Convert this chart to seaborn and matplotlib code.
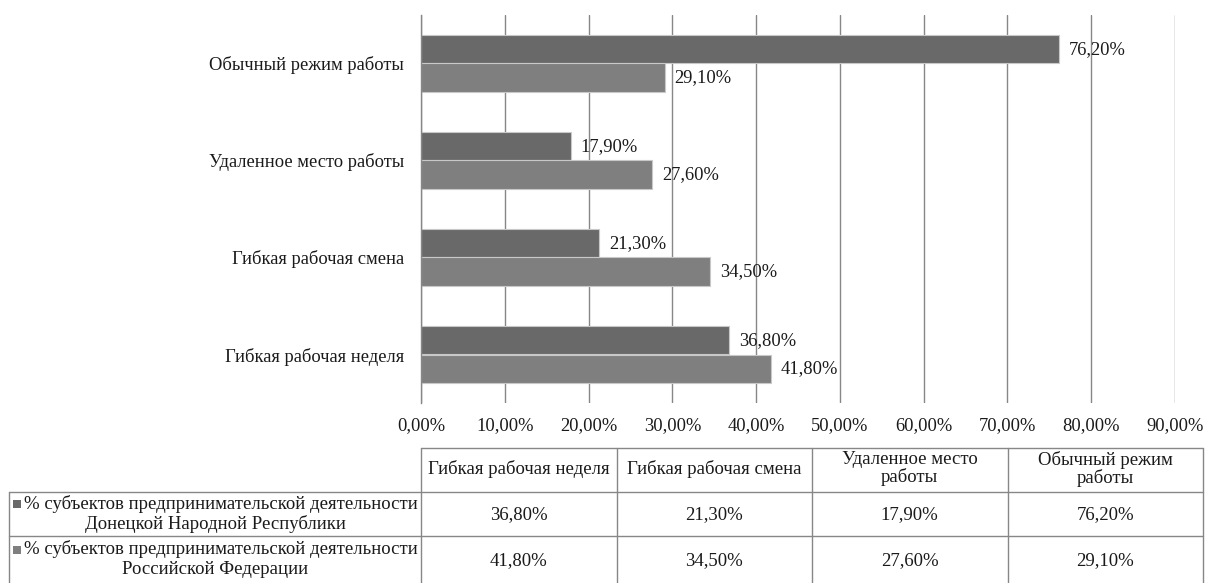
import matplotlib
matplotlib.use("Agg")
import matplotlib.pyplot as plt
from matplotlib.patches import Rectangle
import seaborn as sns
import pandas as pd

# Categories as listed on the vertical axis, top to bottom
categories = [
    "Обычный режим работы",
    "Удаленное место работы",
    "Гибкая рабочая смена",
    "Гибкая рабочая неделя",
]
series_names = [
    "% субъектов предпринимательской деятельности Донецкой Народной Республики",
    "% субъектов предпринимательской деятельности Российской Федерации",
]
dnr_values = [76.2, 17.9, 21.3, 36.8]
rf_values = [29.1, 27.6, 34.5, 41.8]

# Data table below the chart (column order as in the table)
table_columns = [
    "Гибкая рабочая неделя",
    "Гибкая рабочая смена",
    "Удаленное место\nработы",
    "Обычный режим\nработы",
]
table_row_labels = [
    ("% субъектов предпринимательской деятельности", "Донецкой Народной Республики"),
    ("% субъектов предпринимательской деятельности", "Российской Федерации"),
]
x_ticks = [0, 10, 20, 30, 40, 50, 60, 70, 80, 90]

colors = ["#696969", "#7f7f7f"]
grid_color = "#878787"
text_color = "#1a1a1a"
FONT = "Liberation Serif"
FS = 13.3
FS_TAB = 13.5


def pct(v):
    return f"{v:.2f}".replace(".", ",") + "%"


df = pd.DataFrame({
    "category": categories * 2,
    "series": [series_names[0]] * 4 + [series_names[1]] * 4,
    "value": dnr_values + rf_values,
})

sns.set_theme(style="white")
plt.rcParams["font.family"] = [FONT, "DejaVu Sans"]

W, H = 1205, 583
fig = plt.figure(figsize=(W / 100, H / 100), dpi=100)

# chart area in pixel terms
L, R, T, B = 421, 1175, 15, 403
ax = fig.add_axes([L / W, 1 - B / H, (R - L) / W, (B - T) / H])

sns.barplot(
    data=df, y="category", x="value", hue="series",
    order=categories, hue_order=series_names, palette=colors,
    orient="h", width=0.58, edgecolor="#c8c8c8", linewidth=0.8,
    saturation=1, ax=ax, legend=False,
)

for cont, vals in zip(ax.containers, [dnr_values, rf_values]):
    ax.bar_label(cont, labels=[pct(v) for v in vals], padding=7,
                 fontsize=FS, color=text_color)

ax.set_xlim(0, 90)
ax.set_xticks(x_ticks)
ax.set_xticklabels([pct(v) for v in x_ticks])
ax.set_xlabel("")
ax.set_ylabel("")
ax.xaxis.grid(True, color=grid_color, linewidth=1)
ax.yaxis.grid(False)
ax.set_axisbelow(True)
for side in ["top", "right", "bottom"]:
    ax.spines[side].set_visible(False)
ax.spines["left"].set_color(grid_color)
ax.spines["left"].set_linewidth(1)
ax.tick_params(axis="x", length=0, pad=10, labelsize=FS, colors=text_color)
ax.tick_params(axis="y", length=0, pad=12, labelsize=FS, colors=text_color)

# ---- data table drawn in pixel coordinates ----
tab = fig.add_axes([0, 0, 1, 1], zorder=-1)
tab.set_xlim(0, W)
tab.set_ylim(H, 0)
tab.axis("off")

line_kw = dict(color=grid_color, linewidth=1)
x0 = 9
col_edges = [421, 616.5, 812, 1007.5, 1203]
row_edges = [448, 492, 536, 583]

# horizontal lines
tab.plot([col_edges[0], col_edges[-1]], [row_edges[0]] * 2, **line_kw)
for y in row_edges[1:3]:
    tab.plot([x0, col_edges[-1]], [y, y], **line_kw)
# vertical lines
tab.plot([x0, x0], [row_edges[1], row_edges[-1]], **line_kw)
for x in col_edges:
    tab.plot([x, x], [row_edges[0], row_edges[-1]], **line_kw)

text_kw = dict(fontsize=FS_TAB, color=text_color, ha="center", va="center",
               linespacing=1.0)
for i, lab in enumerate(table_columns):
    cx = (col_edges[i] + col_edges[i + 1]) / 2
    tab.text(cx, (row_edges[0] + row_edges[1]) / 2 - 1, lab, **text_kw)

rows_values = [
    [dnr_values[categories.index(c.replace("\n", " "))] for c in table_columns],
    [rf_values[categories.index(c.replace("\n", " "))] for c in table_columns],
]
renderer = fig.canvas.get_renderer()
hx = (x0 + col_edges[0]) / 2
key_w, key_gap = 8, 3
for r, vals in enumerate(rows_values):
    cy = (row_edges[r + 1] + row_edges[r + 2]) / 2
    for i, v in enumerate(vals):
        cx = (col_edges[i] + col_edges[i + 1]) / 2
        tab.text(cx, cy + 1, pct(v), **text_kw)
    # row header: legend key + two-line series name
    l1, l2 = table_row_labels[r]
    t1 = tab.text(0, cy - 10, l1, fontsize=FS_TAB, color=text_color,
                  ha="left", va="center")
    w1 = t1.get_window_extent(renderer).width
    start = hx - (w1 + key_w + key_gap) / 2
    t1.set_x(start + key_w + key_gap)
    tab.add_patch(Rectangle((start, cy - 10 - key_w / 2), key_w, key_w,
                            color=colors[r], linewidth=0))
    tab.text(hx, cy + 10, l2, **text_kw)

fig.savefig("out.png", dpi=100)
